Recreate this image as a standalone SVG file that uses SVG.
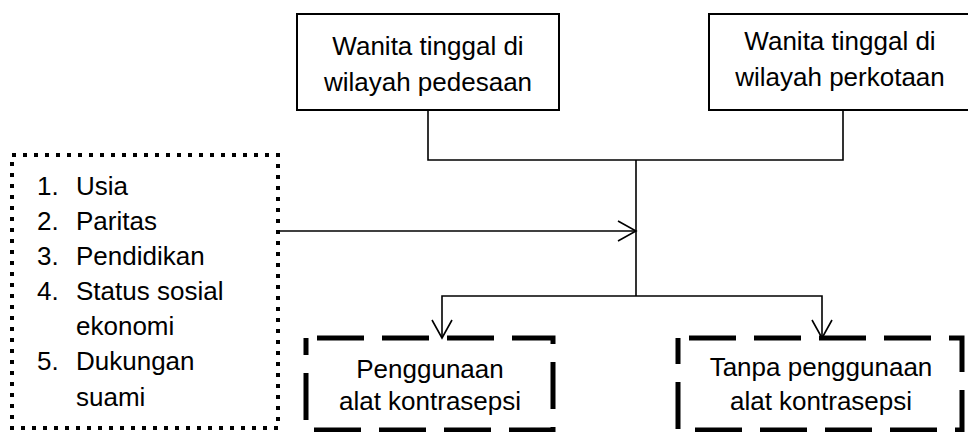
<svg xmlns="http://www.w3.org/2000/svg" width="968" height="432" viewBox="0 0 968 432">
<style>
text{font-family:"Liberation Sans",Arial,sans-serif;font-size:26px;fill:#000}
.solid{fill:#fff;stroke:#000;stroke-width:2}
.dash{fill:none;stroke:#000;stroke-width:5;stroke-dasharray:47 18;stroke-dashoffset:54}
.dot{fill:none;stroke:#000;stroke-width:4;stroke-dasharray:4 7}
.ln{fill:none;stroke:#000;stroke-width:1.6}
.c{text-anchor:middle}
</style>
<g id="connectors">
<polyline class="ln" points="428,110 428,160 843,160 843,110"/>
<line class="ln" x1="636" y1="160" x2="636" y2="296"/>
<line class="ln" x1="278" y1="231" x2="636" y2="231"/>
<polyline class="ln" points="618,221 636,231 618,241"/>
<polyline class="ln" points="442,338 442,296 822,296 822,338"/>
<polyline class="ln" points="432,320 442,338 452,320"/>
<polyline class="ln" points="812,320 822,338 832,320"/>
</g>
<g id="rural">
<rect class="solid" x="297" y="14" width="262" height="96"/>
<text class="c" x="428" y="55">Wanita tinggal di</text>
<text class="c" x="428" y="91">wilayah pedesaan</text>
</g>
<g id="urban">
<rect class="solid" x="709" y="14" width="262" height="96"/>
<text class="c" x="840" y="50">Wanita tinggal di</text>
<text class="c" x="840" y="86">wilayah perkotaan</text>
</g>
<g id="factors">
<rect class="dot" x="12" y="155" width="266" height="273"/>
<text x="37" y="195">1.</text><text x="76" y="195">Usia</text>
<text x="37" y="230">2.</text><text x="76" y="230">Paritas</text>
<text x="37" y="265">3.</text><text x="76" y="265">Pendidikan</text>
<text x="37" y="300">4.</text><text x="76" y="300">Status sosial</text>
<text x="76" y="335">ekonomi</text>
<text x="37" y="370">5.</text><text x="76" y="370">Dukungan</text>
<text x="76" y="406">suami</text>
</g>
<g id="use">
<rect class="dash" x="306" y="338" width="247" height="92"/>
<text class="c" x="430" y="378">Penggunaan</text>
<text class="c" x="430" y="410">alat kontrasepsi</text>
</g>
<g id="nouse">
<rect class="dash" x="678" y="338" width="284" height="92"/>
<text class="c" x="821" y="376">Tanpa penggunaan</text>
<text class="c" x="821" y="410">alat kontrasepsi</text>
</g>
</svg>
